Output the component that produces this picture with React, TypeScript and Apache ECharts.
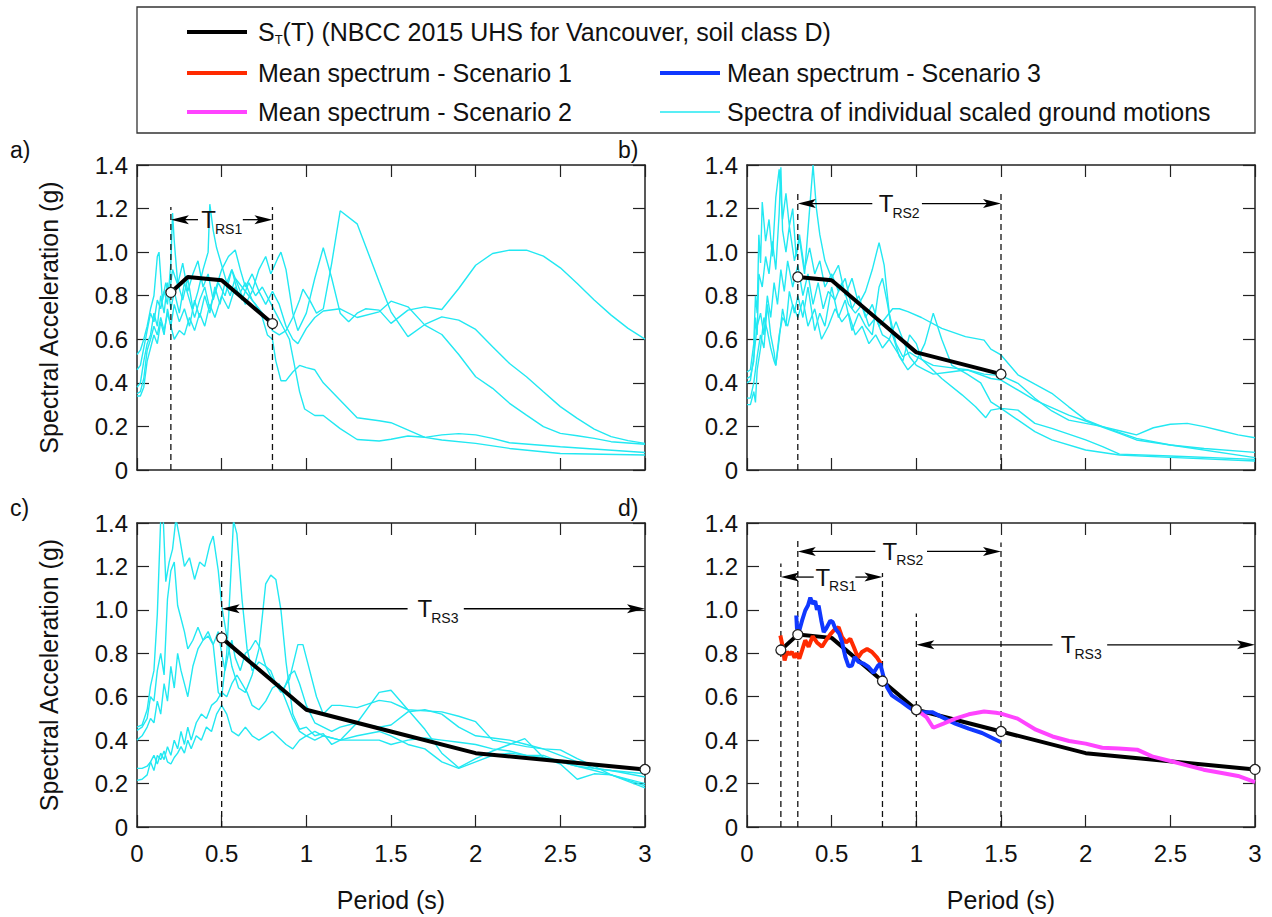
import React, { useEffect, useRef } from 'react';
import * as echarts from 'echarts';

const FONT = '"Liberation Sans", Arial, Helvetica, sans-serif';
const CYAN = '#22e8f2';
const RED = '#ff2a00';
const BLUE = '#1038ff';
const MAGENTA = '#ff44ff';
const AX = '#222';

// ---------- NBCC 2015 UHS (target spectrum) ----------
const stT = [0.2, 0.3, 0.5, 0.8, 1.0, 1.5, 2.0, 3.0];
const stV = [0.815, 0.886, 0.871, 0.672, 0.54, 0.44, 0.34, 0.265];

// ---------- Panel a) individual spectra ----------
const a1 = [[0,0.53],[0.02,0.55],[0.04,0.6],[0.06,0.66],[0.08,0.74],[0.1,0.8],[0.12,0.98],[0.13,1.0],[0.15,0.78],[0.17,0.86],[0.19,0.8],[0.21,0.92],[0.24,0.85],[0.27,0.95],[0.3,0.82],[0.33,0.9],[0.36,0.96],[0.39,0.84],[0.42,0.9],[0.45,0.78],[0.48,0.86],[0.52,0.8],[0.56,0.92],[0.6,0.84],[0.64,0.76],[0.68,0.82],[0.72,0.92],[0.76,0.98],[0.79,0.9],[0.83,0.97],[0.85,1.0],[0.88,0.92],[0.92,0.72],[0.95,0.64],[1.0,0.72],[1.05,0.88],[1.1,1.02],[1.15,0.88],[1.2,0.72],[1.25,0.68],[1.3,0.72],[1.35,0.74],[1.43,0.734],[1.5,0.673],[1.6,0.734],[1.7,0.749],[1.8,0.737],[1.9,0.833],[2.0,0.94],[2.1,0.994],[2.2,1.009],[2.3,1.009],[2.4,0.982],[2.5,0.928],[2.6,0.856],[2.7,0.78],[2.8,0.711],[2.9,0.65],[3.0,0.601]];
const a2 = [[0,0.46],[0.02,0.48],[0.04,0.56],[0.06,0.64],[0.08,0.72],[0.1,0.68],[0.12,0.78],[0.14,0.74],[0.16,0.82],[0.18,0.76],[0.2,0.95],[0.21,1.18],[0.22,1.05],[0.24,0.86],[0.27,0.78],[0.3,0.88],[0.33,0.74],[0.36,0.82],[0.39,0.92],[0.42,1.0],[0.43,1.22],[0.45,1.1],[0.47,1.02],[0.5,0.94],[0.53,0.86],[0.56,0.92],[0.6,0.8],[0.64,0.86],[0.68,0.78],[0.72,0.74],[0.76,0.7],[0.8,0.64],[0.84,0.62],[0.88,0.64],[0.92,0.7],[0.96,0.78],[0.98,0.83],[1.02,0.78],[1.06,0.72],[1.1,0.74],[1.15,0.95],[1.2,1.19],[1.3,1.13],[1.43,0.864],[1.5,0.726],[1.6,0.612],[1.7,0.668],[1.8,0.703],[1.9,0.688],[2.0,0.645],[2.1,0.566],[2.2,0.489],[2.3,0.428],[2.4,0.359],[2.5,0.291],[2.6,0.237],[2.7,0.188],[2.8,0.153],[2.9,0.135],[3.0,0.122]];
const a3 = [[0,0.38],[0.02,0.4],[0.04,0.5],[0.06,0.58],[0.08,0.62],[0.1,0.72],[0.12,0.66],[0.14,0.8],[0.16,0.72],[0.18,0.86],[0.2,0.74],[0.22,0.82],[0.25,0.72],[0.28,0.86],[0.31,0.78],[0.34,0.7],[0.37,0.78],[0.4,0.84],[0.43,0.74],[0.46,0.82],[0.5,0.92],[0.54,0.98],[0.58,1.01],[0.61,0.92],[0.64,0.84],[0.68,0.9],[0.72,0.82],[0.76,0.76],[0.8,0.82],[0.84,0.76],[0.88,0.66],[0.92,0.6],[0.95,0.58],[1.0,0.65],[1.05,0.7],[1.1,0.73],[1.2,0.74],[1.3,0.7],[1.43,0.726],[1.5,0.775],[1.6,0.749],[1.7,0.665],[1.8,0.622],[1.9,0.53],[2.0,0.428],[2.1,0.375],[2.2,0.306],[2.3,0.252],[2.4,0.199],[2.5,0.168],[2.6,0.157],[2.7,0.145],[2.8,0.13],[3.0,0.118]];
const a4 = [[0,0.35],[0.02,0.36],[0.04,0.42],[0.06,0.55],[0.08,0.6],[0.1,0.66],[0.12,0.62],[0.14,0.7],[0.16,0.64],[0.18,0.72],[0.2,0.66],[0.22,0.76],[0.25,0.68],[0.28,0.74],[0.31,0.66],[0.34,0.78],[0.37,0.7],[0.4,0.8],[0.43,0.72],[0.46,0.84],[0.49,0.76],[0.52,0.86],[0.55,0.8],[0.58,0.88],[0.62,0.84],[0.66,0.8],[0.7,0.76],[0.74,0.7],[0.77,0.62],[0.8,0.6],[0.82,0.5],[0.85,0.41],[0.88,0.41],[0.92,0.45],[0.96,0.48],[1.0,0.47],[1.05,0.46],[1.1,0.4],[1.2,0.32],[1.3,0.24],[1.43,0.226],[1.5,0.217],[1.7,0.15],[1.8,0.138],[2.0,0.122],[2.2,0.099],[2.5,0.076],[3.0,0.069]];
const a5 = [[0,0.34],[0.02,0.34],[0.04,0.38],[0.06,0.5],[0.08,0.56],[0.1,0.62],[0.12,0.58],[0.14,0.68],[0.16,0.62],[0.18,0.74],[0.2,0.66],[0.22,0.6],[0.25,0.64],[0.28,0.62],[0.31,0.7],[0.34,0.64],[0.37,0.72],[0.4,0.66],[0.43,0.76],[0.46,0.7],[0.5,0.8],[0.54,0.74],[0.58,0.84],[0.62,0.78],[0.66,0.86],[0.7,0.8],[0.74,0.84],[0.78,0.78],[0.82,0.72],[0.86,0.66],[0.9,0.6],[0.93,0.48],[0.96,0.36],[0.99,0.28],[1.05,0.25],[1.1,0.25],[1.2,0.19],[1.3,0.14],[1.43,0.133],[1.5,0.141],[1.6,0.156],[1.7,0.15],[1.8,0.161],[1.9,0.167],[2.0,0.161],[2.1,0.145],[2.2,0.125],[2.5,0.107],[3.0,0.08]];

// ---------- Panel b) individual spectra ----------
const b1 = [[0,0.45],[0.02,0.46],[0.04,0.58],[0.05,0.8],[0.06,0.72],[0.07,1.08],[0.08,0.95],[0.09,1.23],[0.11,1.05],[0.13,1.15],[0.15,0.98],[0.17,1.25],[0.19,1.38],[0.21,1.15],[0.23,1.27],[0.25,1.12],[0.27,1.2],[0.29,0.98],[0.31,1.08],[0.34,0.92],[0.37,1.02],[0.4,0.9],[0.43,0.96],[0.46,0.84],[0.5,0.9],[0.54,0.82],[0.58,0.88],[0.62,0.74],[0.66,0.8],[0.7,0.7],[0.74,0.76],[0.78,0.66],[0.82,0.7],[0.86,0.74],[0.9,0.74],[0.95,0.727],[1.03,0.7],[1.15,0.65],[1.29,0.612],[1.4,0.596],[1.44,0.555],[1.5,0.528],[1.6,0.437],[1.7,0.394],[1.8,0.352],[1.9,0.29],[2.0,0.23],[2.1,0.199],[2.2,0.18],[2.3,0.161],[2.4,0.194],[2.5,0.21],[2.6,0.214],[2.7,0.199],[2.8,0.18],[2.9,0.161],[3.0,0.148]];
const b2 = [[0,0.42],[0.02,0.43],[0.04,0.5],[0.05,0.7],[0.06,0.62],[0.07,0.9],[0.09,0.84],[0.11,0.98],[0.13,0.9],[0.15,1.05],[0.17,0.92],[0.19,1.18],[0.2,1.39],[0.21,1.1],[0.23,1.0],[0.25,1.12],[0.28,0.96],[0.31,1.06],[0.34,0.9],[0.37,1.2],[0.39,1.4],[0.41,1.2],[0.43,1.08],[0.46,0.96],[0.5,0.88],[0.54,0.94],[0.58,0.8],[0.62,0.88],[0.66,0.76],[0.7,0.82],[0.74,0.92],[0.78,1.044],[0.81,0.94],[0.84,0.72],[0.88,0.58],[0.92,0.52],[0.96,0.54],[1.0,0.52],[1.05,0.5],[1.1,0.48],[1.2,0.47],[1.3,0.46],[1.4,0.44],[1.5,0.433],[1.6,0.398],[1.7,0.329],[1.8,0.271],[1.9,0.229],[2.0,0.214],[2.1,0.199],[2.3,0.145],[2.5,0.115],[2.7,0.099],[3.0,0.081]];
const b3 = [[0,0.4],[0.02,0.41],[0.04,0.52],[0.06,0.66],[0.08,0.72],[0.1,0.62],[0.12,0.8],[0.14,0.7],[0.16,0.86],[0.18,0.76],[0.2,0.92],[0.22,0.82],[0.24,0.96],[0.27,0.84],[0.3,0.94],[0.33,0.8],[0.36,0.9],[0.39,0.76],[0.42,0.86],[0.45,0.74],[0.48,0.82],[0.52,0.78],[0.56,0.86],[0.6,0.76],[0.64,0.72],[0.68,0.76],[0.72,0.66],[0.76,0.7],[0.8,0.62],[0.84,0.6],[0.88,0.68],[0.92,0.6],[0.96,0.52],[1.0,0.48],[1.05,0.46],[1.1,0.44],[1.2,0.45],[1.3,0.46],[1.44,0.42],[1.5,0.413],[1.7,0.321],[1.9,0.252],[2.0,0.225],[2.2,0.168],[2.3,0.138],[2.5,0.115],[3.0,0.057]];
const b4 = [[0,0.33],[0.02,0.33],[0.04,0.4],[0.06,0.52],[0.08,0.62],[0.1,0.56],[0.12,0.76],[0.14,0.62],[0.16,0.54],[0.17,0.48],[0.19,0.6],[0.21,0.74],[0.23,0.66],[0.25,0.82],[0.28,0.72],[0.3,0.8],[0.33,0.7],[0.36,0.84],[0.4,0.64],[0.43,0.72],[0.46,0.66],[0.5,0.84],[0.54,0.7],[0.58,0.78],[0.62,0.64],[0.66,0.72],[0.7,0.66],[0.74,0.62],[0.78,0.84],[0.8,0.88],[0.83,0.76],[0.86,0.62],[0.9,0.52],[0.95,0.46],[1.0,0.5],[1.05,0.58],[1.1,0.72],[1.15,0.6],[1.21,0.48],[1.3,0.44],[1.38,0.4],[1.44,0.313],[1.5,0.283],[1.6,0.275],[1.7,0.214],[1.8,0.191],[2.0,0.138],[2.1,0.107],[2.2,0.073],[2.5,0.064],[3.0,0.049]];
const b5 = [[0,0.3],[0.02,0.3],[0.04,0.36],[0.05,0.31],[0.06,0.46],[0.08,0.56],[0.1,0.7],[0.12,0.64],[0.14,0.56],[0.16,0.5],[0.17,0.48],[0.19,0.62],[0.21,0.7],[0.24,0.66],[0.27,0.76],[0.3,0.7],[0.33,0.78],[0.36,0.66],[0.4,0.74],[0.44,0.6],[0.48,0.66],[0.52,0.74],[0.56,0.68],[0.6,0.72],[0.64,0.62],[0.68,0.66],[0.72,0.58],[0.76,0.62],[0.8,0.56],[0.84,0.6],[0.88,0.55],[0.92,0.5],[0.96,0.62],[1.0,0.58],[1.03,0.51],[1.15,0.42],[1.27,0.345],[1.35,0.29],[1.41,0.24],[1.44,0.275],[1.5,0.283],[1.7,0.176],[1.8,0.138],[2.0,0.092],[2.2,0.069],[2.5,0.058],[3.0,0.041]];

// ---------- Panel c) individual spectra ----------
const c1 = [[0,0.46],[0.03,0.47],[0.06,0.54],[0.08,0.65],[0.1,0.72],[0.12,0.98],[0.14,1.42],[0.155,1.42],[0.17,1.13],[0.19,1.22],[0.21,1.28],[0.23,1.42],[0.25,1.34],[0.28,1.2],[0.31,1.24],[0.34,1.14],[0.37,1.22],[0.4,1.2],[0.43,1.3],[0.45,1.34],[0.48,1.18],[0.5,1.02],[0.53,0.88],[0.56,0.74],[0.6,0.64],[0.64,0.62],[0.68,0.7],[0.72,0.82],[0.76,1.12],[0.79,1.16],[0.82,1.14],[0.85,1.0],[0.88,0.76],[0.92,0.52],[0.96,0.45],[1.0,0.46],[1.05,0.42],[1.1,0.43],[1.15,0.38],[1.2,0.4],[1.3,0.48],[1.43,0.62],[1.5,0.63],[1.6,0.54],[1.7,0.45],[1.8,0.34],[1.9,0.273],[2.0,0.315],[2.1,0.35],[2.2,0.38],[2.29,0.407],[2.4,0.32],[2.5,0.29],[2.6,0.22],[2.7,0.245],[2.8,0.24],[3.0,0.19]];
const c2 = [[0,0.445],[0.03,0.46],[0.06,0.5],[0.08,0.6],[0.1,0.58],[0.12,0.72],[0.14,0.8],[0.16,0.7],[0.18,1.05],[0.2,1.18],[0.22,1.22],[0.24,1.02],[0.26,0.96],[0.28,0.9],[0.3,0.82],[0.33,0.86],[0.36,0.92],[0.39,0.86],[0.42,0.9],[0.45,0.84],[0.48,0.62],[0.5,0.6],[0.53,0.8],[0.55,1.1],[0.57,1.41],[0.59,1.35],[0.62,1.05],[0.65,0.82],[0.68,0.72],[0.72,0.76],[0.76,0.74],[0.8,0.68],[0.85,0.62],[0.9,0.68],[0.95,0.84],[0.98,0.84],[1.02,0.72],[1.06,0.6],[1.1,0.52],[1.15,0.56],[1.2,0.56],[1.3,0.55],[1.43,0.583],[1.5,0.575],[1.6,0.54],[1.7,0.535],[1.8,0.53],[1.9,0.51],[2.0,0.485],[2.1,0.4],[2.2,0.385],[2.3,0.37],[2.4,0.36],[2.5,0.355],[2.6,0.315],[2.7,0.28],[2.8,0.24],[3.0,0.18]];
const c3 = [[0,0.4],[0.03,0.42],[0.06,0.46],[0.08,0.5],[0.1,0.48],[0.12,0.58],[0.14,0.52],[0.16,0.66],[0.18,0.58],[0.2,0.74],[0.22,0.64],[0.24,0.8],[0.26,0.72],[0.28,0.66],[0.3,0.6],[0.33,0.74],[0.36,0.82],[0.39,0.86],[0.42,0.88],[0.45,0.84],[0.48,0.9],[0.5,0.8],[0.52,0.72],[0.54,0.8],[0.56,0.86],[0.58,0.78],[0.61,0.72],[0.64,0.8],[0.67,0.82],[0.7,0.86],[0.73,0.82],[0.76,0.74],[0.79,0.72],[0.82,0.66],[0.86,0.62],[0.9,0.7],[0.93,0.72],[0.96,0.66],[1.0,0.56],[1.05,0.48],[1.1,0.46],[1.15,0.44],[1.2,0.46],[1.3,0.48],[1.43,0.46],[1.5,0.47],[1.6,0.53],[1.7,0.54],[1.8,0.52],[1.9,0.46],[2.0,0.42],[2.1,0.41],[2.2,0.4],[2.3,0.38],[2.4,0.36],[2.5,0.33],[2.6,0.3],[2.7,0.27],[2.8,0.26],[3.0,0.23]];
const c4 = [[0,0.27],[0.03,0.27],[0.06,0.28],[0.08,0.3],[0.1,0.33],[0.12,0.29],[0.14,0.34],[0.16,0.31],[0.18,0.37],[0.2,0.33],[0.22,0.4],[0.24,0.36],[0.26,0.44],[0.28,0.38],[0.3,0.46],[0.32,0.4],[0.35,0.48],[0.38,0.52],[0.41,0.5],[0.44,0.56],[0.47,0.58],[0.5,0.62],[0.53,0.6],[0.56,0.66],[0.59,0.7],[0.62,0.66],[0.65,0.62],[0.68,0.56],[0.72,0.54],[0.76,0.58],[0.8,0.64],[0.84,0.66],[0.88,0.58],[0.92,0.5],[0.96,0.44],[1.0,0.42],[1.05,0.44],[1.1,0.42],[1.2,0.4],[1.3,0.42],[1.43,0.44],[1.5,0.42],[1.6,0.38],[1.7,0.36],[1.8,0.3],[1.9,0.27],[2.0,0.3],[2.1,0.33],[2.2,0.34],[2.3,0.33],[2.4,0.33],[2.5,0.3],[2.6,0.28],[2.7,0.27],[2.8,0.26],[3.0,0.245]];
const c5 = [[0,0.215],[0.03,0.22],[0.06,0.24],[0.08,0.3],[0.1,0.26],[0.12,0.33],[0.14,0.31],[0.16,0.35],[0.18,0.3],[0.2,0.29],[0.22,0.32],[0.24,0.34],[0.26,0.37],[0.28,0.34],[0.3,0.4],[0.32,0.36],[0.35,0.42],[0.38,0.4],[0.41,0.46],[0.44,0.44],[0.47,0.52],[0.5,0.56],[0.53,0.52],[0.56,0.44],[0.6,0.42],[0.64,0.46],[0.68,0.42],[0.72,0.4],[0.76,0.42],[0.8,0.44],[0.84,0.41],[0.88,0.38],[0.92,0.36],[0.96,0.4],[1.0,0.42],[1.05,0.4],[1.1,0.42],[1.2,0.4],[1.3,0.4],[1.43,0.4],[1.5,0.38],[1.6,0.4],[1.7,0.41],[1.8,0.4],[1.9,0.39],[2.0,0.38],[2.1,0.36],[2.2,0.35],[2.3,0.33],[2.4,0.32],[2.5,0.3],[2.6,0.28],[2.7,0.26],[2.8,0.24],[3.0,0.2]];

// ---------- Panel d) mean spectra ----------
const scen1 = [[0.197,0.882],[0.211,0.83],[0.222,0.767],[0.236,0.806],[0.25,0.795],[0.266,0.806],[0.281,0.78],[0.295,0.8],[0.309,0.775],[0.325,0.813],[0.344,0.86],[0.364,0.83],[0.388,0.878],[0.413,0.85],[0.443,0.83],[0.467,0.86],[0.492,0.887],[0.512,0.905],[0.541,0.92],[0.561,0.875],[0.585,0.85],[0.61,0.867],[0.63,0.83],[0.656,0.78],[0.679,0.806],[0.709,0.82],[0.738,0.806],[0.768,0.78],[0.791,0.752]];
const scen3 = [[0.291,0.974],[0.295,0.913],[0.309,0.905],[0.325,0.95],[0.344,0.997],[0.36,1.02],[0.374,1.056],[0.388,1.028],[0.403,1.04],[0.413,1.0],[0.423,1.02],[0.439,0.95],[0.453,0.898],[0.467,0.913],[0.492,0.95],[0.506,0.944],[0.522,0.913],[0.545,0.89],[0.561,0.852],[0.581,0.783],[0.6,0.74],[0.62,0.744],[0.636,0.783],[0.659,0.76],[0.689,0.752],[0.718,0.737],[0.748,0.71],[0.774,0.744],[0.787,0.752],[0.807,0.69],[0.827,0.644],[0.856,0.606],[0.886,0.59],[0.915,0.575],[0.955,0.552],[0.994,0.532],[1.033,0.529],[1.093,0.529],[1.152,0.506],[1.23,0.476],[1.309,0.453],[1.388,0.433],[1.5,0.39]];
const scen2 = [[1.0,0.54],[1.06,0.506],[1.1,0.457],[1.16,0.476],[1.23,0.499],[1.31,0.519],[1.4,0.532],[1.47,0.526],[1.5,0.522],[1.598,0.499],[1.706,0.448],[1.804,0.417],[1.902,0.396],[2.0,0.384],[2.098,0.365],[2.196,0.361],[2.304,0.356],[2.392,0.325],[2.5,0.304],[2.598,0.284],[2.696,0.264],[2.804,0.249],[2.9,0.235],[3.0,0.207]];

// ---------- Annotations (data coordinates) ----------
const panelCyan = [[a1, a2, a3, a4, a5], [b1, b2, b3, b4, b5], [c1, c2, c3, c4, c5], []];
const panelST = [[0.2, 0.8], [0.3, 1.5], [0.5, 3.0], [0.2, 3.0]];
const panelCircles = [[0.2, 0.8], [0.3, 1.5], [0.5, 3.0], [0.2, 0.3, 0.8, 1.0, 1.5, 3.0]];
const panelDashes = [
  [[0.2, 1.207], [0.8, 1.207]],
  [[0.3, 1.285], [1.5, 1.285]],
  [[0.5, 1.232]],
  [[0.2, 1.213], [0.3, 1.324], [0.8, 1.17], [1.0, 0.983], [1.5, 1.31]],
];
// [from, to, y, leftSegEnd, rightSegStart, labelStart, subscript]
const panelArrows: any[][] = [
  [[0.2, 0.8, 1.149, 0.36, 0.625, 0.38, 'RS1']],
  [[0.3, 1.5, 1.223, 0.74, 1.033, 0.778, 'RS2']],
  [[0.5, 3.0, 1.005, 1.598, 1.93, 1.657, 'RS3']],
  [
    [0.3, 1.5, 1.269, 0.758, 1.063, 0.8, 'RS2'],
    [0.2, 0.8, 1.151, 0.394, 0.64, 0.404, 'RS1'],
    [1.0, 3.0, 0.839, 1.804, 2.127, 1.853, 'RS3'],
  ],
];
const panelLetters = ['a)', 'b)', 'c)', 'd)'];

const GRIDS = [
  { left: 137, top: 165, width: 508, height: 305 },
  { left: 747, top: 165, width: 508, height: 305 },
  { left: 137, top: 523, width: 508, height: 304 },
  { left: 747, top: 523, width: 508, height: 304 },
];
const LETTER_POS = [[10, 150], [618, 150], [10, 508], [618, 508]];

function measure(text: string, size: number) {
  const ctx = document.createElement('canvas').getContext('2d')!;
  ctx.font = `${size}px "Liberation Sans", Arial, sans-serif`;
  return ctx.measureText(text).width;
}

export default function App() {
  const ref = useRef<HTMLDivElement>(null);
  useEffect(() => {
    const chart = echarts.init(ref.current!, null, { renderer: 'svg' });
    const xAxes: any[] = [];
    const yAxes: any[] = [];
    const axisLine = { show: true, onZero: false, lineStyle: { color: AX, width: 1.5 } };
    const axisTick = { show: true, inside: true, length: 12, lineStyle: { color: AX, width: 1.2 } };
    GRIDS.forEach((_, g) => {
      xAxes.push({
        gridIndex: g, type: 'value', min: 0, max: 3, interval: 0.5, position: 'bottom',
        axisLine, axisTick, splitLine: { show: false },
        axisLabel: { show: g >= 2, margin: 14, fontSize: 24, color: '#111', fontFamily: FONT },
      });
      xAxes.push({
        gridIndex: g, type: 'value', min: 0, max: 3, interval: 0.5, position: 'top',
        axisLine, axisTick, splitLine: { show: false }, axisLabel: { show: false },
      });
      yAxes.push({
        gridIndex: g, type: 'value', min: 0, max: 1.4, interval: 0.2, position: 'left',
        axisLine, axisTick, splitLine: { show: false },
        axisLabel: {
          margin: 9, fontSize: 24, color: '#111', fontFamily: FONT,
          formatter: (v: number) => (Math.abs(v) < 1e-9 ? '0' : v.toFixed(1)),
        },
      });
      yAxes.push({
        gridIndex: g, type: 'value', min: 0, max: 1.4, interval: 0.2, position: 'right',
        axisLine, axisTick, splitLine: { show: false }, axisLabel: { show: false },
      });
    });

    const series: any[] = [];
    const base = (g: number) => ({ xAxisIndex: 2 * g, yAxisIndex: 2 * g, silent: true, animation: false });
    GRIDS.forEach((_, g) => {
      panelCyan[g].forEach((d: number[][]) => {
        series.push({ ...base(g), type: 'line', data: d, showSymbol: false, z: 2,
          lineStyle: { color: CYAN, width: 1.4 } });
      });
      panelDashes[g].forEach(([t, top]) => {
        series.push({ ...base(g), type: 'line', data: [[t, 0], [t, top]], showSymbol: false, z: 3,
          lineStyle: { color: '#111', width: 1.3, type: [6, 4] } });
      });
      const [s0, s1] = panelST[g];
      const st = stT.map((t, i) => [t, stV[i]]).filter(([t]) => t >= s0 - 1e-9 && t <= s1 + 1e-9);
      series.push({ ...base(g), type: 'line', data: st, showSymbol: false, z: 4,
        lineStyle: { color: '#000', width: 4 } });
      if (g === 3) {
        series.push({ ...base(g), type: 'line', data: scen1, showSymbol: false, z: 5, lineStyle: { color: RED, width: 4 } });
        series.push({ ...base(g), type: 'line', data: scen3, showSymbol: false, z: 5, lineStyle: { color: BLUE, width: 4 } });
        series.push({ ...base(g), type: 'line', data: scen2, showSymbol: false, z: 5, lineStyle: { color: MAGENTA, width: 4 } });
      }
      const circ = panelCircles[g].map((t) => [t, stV[stT.indexOf(t)]]);
      series.push({ ...base(g), type: 'scatter', data: circ, symbol: 'circle', symbolSize: 10, z: 6,
        itemStyle: { color: '#fff', borderColor: '#222', borderWidth: 1.3, opacity: 1 } });
    });

    chart.setOption({
      animation: false,
      backgroundColor: '#fff',
      textStyle: { fontFamily: FONT },
      grid: GRIDS.map((g) => ({ ...g, containLabel: false, outerBoundsMode: 'none' })),
      xAxis: xAxes,
      yAxis: yAxes,
      series,
    });

    const gr: any[] = [];
    const txt = (x: number, y: number, text: string, size: number, align = 'left', extra: any = {}) => ({
      type: 'text', x, y, z: 20, ...extra,
      style: { text, fontSize: size, fontFamily: FONT, fill: '#111', align, verticalAlign: 'middle' },
    });
    const line = (x1: number, y1: number, x2: number, y2: number, color: string, w: number) => ({
      type: 'line', z: 20, shape: { x1, y1, x2, y2 }, style: { stroke: color, lineWidth: w },
    });
    const head = (x: number, y: number, dir: number) => ({
      type: 'polygon', z: 20,
      shape: { points: [[x, y], [x - dir * 18, y - 4.5], [x - dir * 14, y], [x - dir * 18, y + 4.5]] },
      style: { fill: '#000' },
    });

    GRIDS.forEach((G, g) => {
      const P = (x: number, y: number) => chart.convertToPixel({ xAxisIndex: 2 * g, yAxisIndex: 2 * g } as any, [x, y]) as number[];
      panelArrows[g].forEach(([from, to, y, l1, r0, lab, sub]) => {
        const a = P(from, y), b = P(l1, y), c = P(r0, y), d = P(to, y), t = P(lab, y);
        gr.push(line(a[0] + 6, a[1], b[0], b[1], '#000', 1.3));
        gr.push(head(a[0], a[1], -1));
        gr.push(line(c[0], c[1], d[0] - 6, d[1], '#000', 1.3));
        gr.push(head(d[0], d[1], 1));
        gr.push(txt(t[0], t[1], 'T', 24));
        gr.push(txt(t[0] + measure('T', 24) - 1, t[1] + 9, sub, 14));
      });
      gr.push(txt(LETTER_POS[g][0], LETTER_POS[g][1], panelLetters[g], 23));
    });

    // axis names
    [0, 2].forEach((g) => {
      const G = GRIDS[g];
      gr.push(txt(49, G.top + G.height / 2, 'Spectral Acceleration (g)', 25, 'center', { rotation: Math.PI / 2 }));
    });
    [2, 3].forEach((g) => {
      const G = GRIDS[g];
      gr.push(txt(G.left + G.width / 2, 900, 'Period (s)', 25, 'center'));
    });

    // legend box
    gr.push({ type: 'rect', z: 20, shape: { x: 137, y: 7, width: 1118, height: 126 },
      style: { fill: 'none', stroke: '#333', lineWidth: 1.3 } });
    const LF = 25;
    gr.push(line(187, 32, 247, 32, '#000', 4));
    gr.push(txt(258, 32, 'S', LF));
    const sw = measure('S', LF);
    gr.push(txt(258 + sw, 39, 'T', 13));
    gr.push(txt(258 + sw + measure('T', 13), 32, '(T) (NBCC 2015 UHS for Vancouver, soil class D)', LF));
    gr.push(line(187, 73, 247, 73, RED, 4));
    gr.push(txt(258, 73, 'Mean spectrum - Scenario 1', LF));
    gr.push(line(187, 112, 247, 112, MAGENTA, 4));
    gr.push(txt(258, 112, 'Mean spectrum - Scenario 2', LF));
    gr.push(line(660, 73, 720, 73, BLUE, 4));
    gr.push(txt(727, 73, 'Mean spectrum - Scenario 3', LF));
    gr.push(line(660, 112, 720, 112, CYAN, 1.6));
    gr.push(txt(727, 112, 'Spectra of individual scaled ground motions', LF));

    chart.setOption({ graphic: gr });
    return () => chart.dispose();
  }, []);
  return <div ref={ref} style={{ position: 'absolute', left: 0, top: 0, width: 1272, height: 917 }} />;
}
